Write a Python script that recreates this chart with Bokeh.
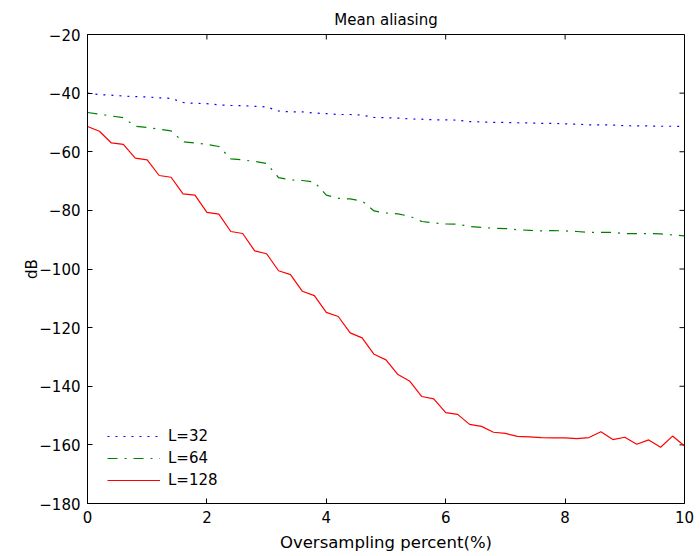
import math
from bokeh.plotting import figure
from bokeh.models import FixedTicker, Range1d, Legend, LegendItem
from bokeh.embed import file_html
from bokeh.resources import INLINE

x_pct = [round(0.2 * i, 1) for i in range(51)]

l32 = [-40.0, -40.5, -40.7, -41.0, -41.2, -41.3, -41.6, -41.8, -43.2, -43.5,
       -43.6, -44.0, -44.2, -44.3, -44.5, -44.7, -46.1, -46.4, -46.4, -46.8,
       -47.0, -47.3, -47.3, -47.5, -48.3, -48.4, -48.5, -48.8, -48.9, -49.1,
       -49.1, -49.2, -49.7, -49.8, -50.0, -50.0, -50.1, -50.2, -50.3, -50.3,
       -50.5, -50.6, -50.8, -50.8, -50.9, -51.1, -51.2, -51.2, -51.3, -51.3,
       -51.4]

l64 = [-46.6, -47.2, -47.8, -48.4, -51.3, -51.7, -52.3, -52.9, -56.6, -57.0,
       -57.5, -58.2, -62.4, -62.8, -63.3, -64.0, -68.8, -69.6, -69.8, -70.3,
       -74.8, -75.9, -76.1, -76.8, -80.2, -80.9, -81.2, -82.0, -83.8, -84.3,
       -84.6, -84.7, -85.5, -85.8, -86.1, -86.2, -86.6, -86.8, -87.0, -86.9,
       -87.0, -87.2, -87.5, -87.5, -87.5, -87.9, -87.9, -87.9, -88.0, -88.4,
       -88.7]

l128 = [-51.4, -53.0, -57.0, -57.5, -62.2, -62.8, -68.1, -68.7, -74.4, -74.8,
        -80.7, -81.3, -87.2, -87.9, -93.8, -94.8, -100.6, -101.9, -107.6, -109.1,
        -114.8, -116.2, -121.8, -123.5, -129.1, -131.0, -136.0, -138.3, -143.5, -144.3,
        -149.0, -149.6, -153.0, -153.7, -155.7, -156.1, -157.1, -157.3, -157.5, -157.6,
        -157.6, -157.9, -157.5, -155.5, -158.2, -157.4, -159.8, -158.3, -160.8, -157.0,
        -160.4]

x_ticks = [0, 2, 4, 6, 8, 10]
y_ticks = [-180, -160, -140, -120, -100, -80, -60, -40, -20]
y_tick_labels = {v: ("\u2212" + str(-v)) if v < 0 else str(v) for v in y_ticks}

title_text = "Mean aliasing"
x_label = "Oversampling percent(%)"
y_label = "dB"
series_labels = ["L=32", "L=64", "L=128"]

FONT = "DejaVu Sans"
FS = "15px"

X_MIN, X_MAX = 0, 10
Y_MIN, Y_MAX = -180, -20

p = figure(width=700, height=556, output_backend="svg", toolbar_location=None,
           x_range=Range1d(X_MIN, X_MAX), y_range=Range1d(Y_MIN, Y_MAX),
           min_border_left=87, min_border_right=16, min_border_top=34,
           min_border_bottom=53, title=title_text)

p.title.text_font = FONT
p.title.text_font_size = FS
p.title.text_font_style = "normal"
p.title.align = "center"
p.title.text_color = "black"
p.title.standoff = 12

p.grid.visible = False
p.outline_line_color = "black"
p.outline_line_width = 1
p.background_fill_color = "white"
p.border_fill_color = "white"

for ax in p.xaxis + p.yaxis:
    ax.major_tick_in = 5
    ax.major_tick_out = 0
    ax.minor_tick_line_color = None
    ax.axis_line_color = "black"
    ax.major_tick_line_color = "black"
    ax.major_label_text_font = FONT
    ax.major_label_text_font_size = FS
    ax.major_label_text_color = "black"
    ax.axis_label_text_font = FONT
    ax.axis_label_text_font_size = FS
    ax.axis_label_text_font_style = "normal"
    ax.axis_label_text_color = "black"

p.xaxis.ticker = FixedTicker(ticks=x_ticks)
p.yaxis.ticker = FixedTicker(ticks=y_ticks)
p.yaxis.major_label_overrides = y_tick_labels
p.xaxis.axis_label = x_label
p.xaxis.axis_label_text_font_size = "16.5px"
p.yaxis.axis_label = y_label
p.xaxis.major_label_standoff = 7
p.xaxis.axis_label_standoff = 7
p.yaxis.major_label_standoff = 7
p.yaxis.axis_label_standoff = -5

# inward ticks on the top and right edges of the box
p.ray(x=x_ticks, y=[Y_MAX] * len(x_ticks), length=5, length_units="screen",
      angle=-math.pi / 2, line_color="black", line_width=1)
p.ray(x=[X_MAX] * len(y_ticks), y=y_ticks, length=5, length_units="screen",
      angle=math.pi, line_color="black", line_width=1)

r1 = p.line(x_pct, l32, line_color="#0000ff", line_width=1.2, line_dash="2 6")
r2 = p.line(x_pct, l64, line_color="#008000", line_width=1.2, line_dash="10 7 2 7")
r3 = p.line(x_pct, l128, line_color="#ff0000", line_width=1.2)

legend = Legend(items=[LegendItem(label=series_labels[0], renderers=[r1]),
                       LegendItem(label=series_labels[1], renderers=[r2]),
                       LegendItem(label=series_labels[2], renderers=[r3])],
                location=(20, 13))
legend.padding = 5
legend.margin = 0
legend.spacing = 2
legend.glyph_width = 53
legend.glyph_height = 20
legend.label_standoff = 8
legend.label_text_font = FONT
legend.label_text_font_size = FS
legend.label_text_color = "black"
legend.border_line_color = None
legend.background_fill_alpha = 0
p.add_layout(legend)

open("out.html", "w").write(file_html(p, INLINE))
